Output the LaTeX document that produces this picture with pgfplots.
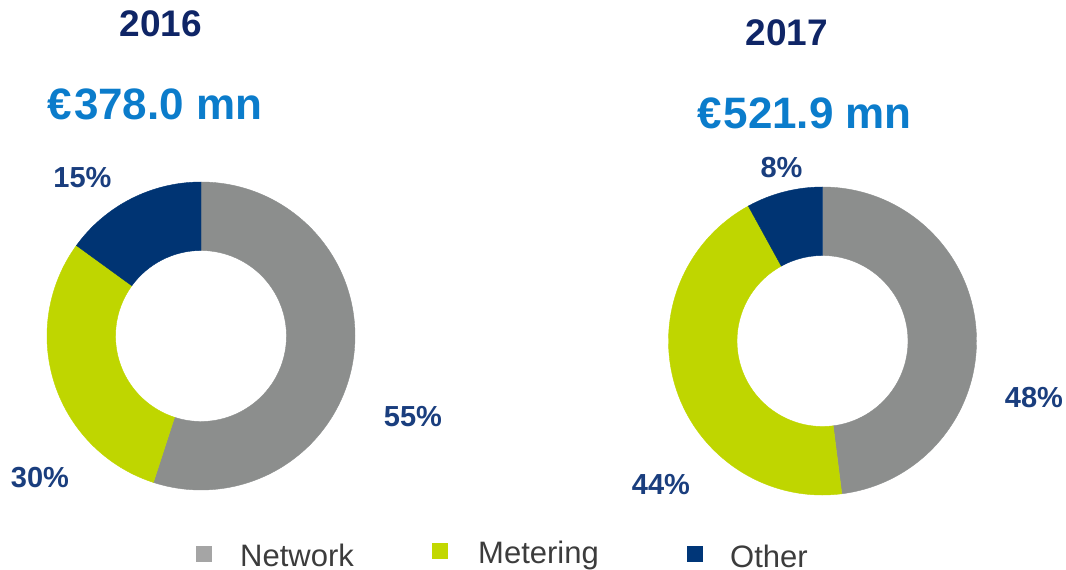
\documentclass[border=0pt]{standalone}
\usepackage{pgfplots}
\usepackage{pgfplotstable}
\pgfplotsset{compat=1.18}
\usepackage{fontspec}
\setmainfont{Liberation Sans}
\definecolor{cNet}{HTML}{8C8E8D}
\definecolor{cMet}{HTML}{BFD600}
\definecolor{cOth}{HTML}{003473}
\definecolor{cLab}{HTML}{1A3E7E}
\definecolor{cYear}{HTML}{0F2566}
\definecolor{cAmt}{HTML}{0B7CCB}
\definecolor{cLeg}{HTML}{3C3C3C}
\definecolor{cNetL}{HTML}{A5A5A5}
\definecolor{cMetL}{HTML}{C2D800}
\definecolor{cOthL}{HTML}{003678}

\pgfplotstableread{
cat v2016 v2017
Network 55 48
Metering 30 44
Other 15 8
}\datatable

\newcommand\seg[5]{%
  \filldraw[fill=#5,draw=#5,line width=0.4pt]
    (axis cs:{#1+154*cos(#3)},{#2+154*sin(#3)})
    arc[start angle=#3,end angle=#4,radius=154pt]
    -- (axis cs:{#1+85.5*cos(#4)},{#2+85.5*sin(#4)})
    arc[start angle=#4,end angle=#3,radius=85.5pt] -- cycle;}

\begin{document}%
\begin{tikzpicture}
\pgfplotstablegetelem{0}{v2016}\of\datatable\edef\NA{\pgfplotsretval}
\pgfplotstablegetelem{1}{v2016}\of\datatable\edef\MA{\pgfplotsretval}
\pgfplotstablegetelem{2}{v2016}\of\datatable\edef\OA{\pgfplotsretval}
\pgfplotstablegetelem{0}{v2017}\of\datatable\edef\NB{\pgfplotsretval}
\pgfplotstablegetelem{1}{v2017}\of\datatable\edef\MB{\pgfplotsretval}
\pgfplotstablegetelem{2}{v2017}\of\datatable\edef\OB{\pgfplotsretval}
\pgfmathsetmacro\aA{90-3.6*\NA}
\pgfmathsetmacro\bA{90-3.6*(\NA+\MA)}
\pgfmathsetmacro\cA{90-3.6*(\NA+\MA+\OA)}
\pgfmathsetmacro\aB{90-3.6*\NB}
\pgfmathsetmacro\bB{90-3.6*(\NB+\MB)}
\pgfmathsetmacro\cB{90-3.6*(\NB+\MB+\OB)}
\begin{axis}[x=1pt,y=1pt,xmin=0,xmax=1066,ymin=0,ymax=570,
  hide axis,clip=false,scale only axis]
  % 2016 donut
  \seg{201}{234}{90}{\aA}{cNet}
  \seg{201}{234}{\aA}{\bA}{cMet}
  \seg{201}{234}{\bA}{\cA}{cOth}
  % 2017 donut
  \seg{822.5}{229}{90}{\aB}{cNet}
  \seg{822.5}{229}{\aB}{\bB}{cMet}
  \seg{822.5}{229}{\bB}{\cB}{cOth}
  % titles
  \node[inner sep=0,text=cYear,font=\fontsize{37}{40}\selectfont\bfseries] at (axis cs:161,546.5) {2016};
  \node[inner sep=0,text=cYear,font=\fontsize{37}{40}\selectfont\bfseries] at (axis cs:787,537) {2017};
  \node[inner sep=0,text=cAmt,font=\fontsize{44}{48}\selectfont\bfseries] at (axis cs:155,466) {€\kern2pt 378.0 mn};
  \node[inner sep=0,text=cAmt,font=\fontsize{44}{48}\selectfont\bfseries] at (axis cs:804.5,456.5) {€\kern2pt 521.9 mn};
  % percentage labels
  \tikzset{pl/.style={inner sep=0,text=cLab,font=\fontsize{29}{32}\selectfont\bfseries}}
  \node[pl] at (axis cs:82.5,392) {\OA\%};
  \node[pl] at (axis cs:413,153) {\NA\%};
  \node[pl] at (axis cs:40,92) {\MA\%};
  \node[pl] at (axis cs:781.5,402) {\OB\%};
  \node[pl] at (axis cs:1034,172) {\NB\%};
  \node[pl] at (axis cs:661,85) {\MB\%};
  % legend
  \fill[cNetL] (axis cs:196,8) rectangle (axis cs:212,24);
  \fill[cMetL] (axis cs:432,11) rectangle (axis cs:448,27);
  \fill[cOthL] (axis cs:687,8) rectangle (axis cs:703,24);
  \tikzset{lg/.style={inner sep=0,anchor=base west,text=cLeg,font=\fontsize{31}{34}\selectfont}}
  \node[lg] at (axis cs:240,3) {Network};
  \node[lg] at (axis cs:478,6) {Metering};
  \node[lg] at (axis cs:730,2) {Other};
\end{axis}
\pgfresetboundingbox
\path[use as bounding box] (0,0) rectangle (1066pt,570pt);
\end{tikzpicture}%
\end{document}
